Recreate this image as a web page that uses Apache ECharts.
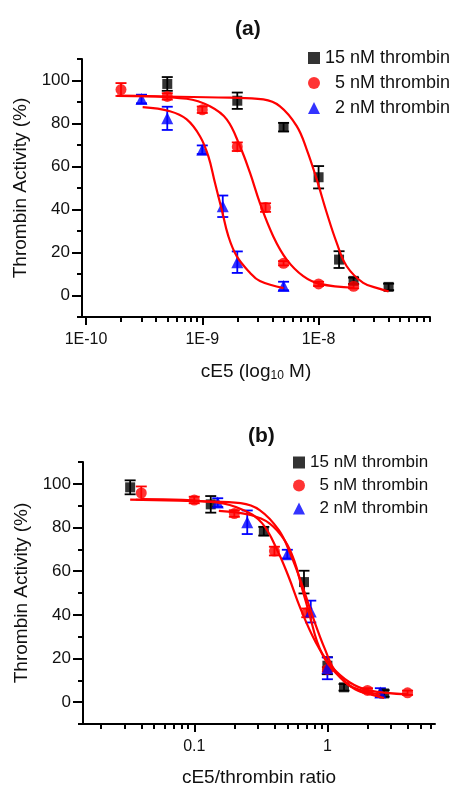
<!DOCTYPE html>
<html><head><meta charset="utf-8">
<script src="https://cdn.jsdelivr.net/npm/echarts@6/dist/echarts.min.js"></script>
<style>html,body{margin:0;padding:0;background:#fff}#c{width:456px;height:797px}</style>
</head><body><div id="c"></div>
<script>
// ---------------- data ----------------
const seriesNames = ['15 nM thrombin', '  5 nM thrombin', '  2 nM thrombin'];
// panel (a): cE5 concentration (M)
const concBlack = [5e-10, 2e-9, 5e-9, 1e-8, 1.5e-8, 2e-8, 4e-8];
const concRed = [2e-10, 5e-10, 1e-9, 2e-9, 3.5e-9, 5e-9, 1e-8, 2e-8];
const concBlue = [3e-10, 5e-10, 1e-9, 1.5e-9, 2e-9, 5e-9];
// panel (b): cE5/thrombin ratio
const ratioBlack = [0.033, 0.133, 0.333, 0.667, 1.0, 1.333, 2.667];
const ratioRed = [0.04, 0.1, 0.2, 0.4, 0.7, 1.0, 2.0, 4.0];
const ratioBlue = [0.15, 0.25, 0.5, 0.75, 1.0, 2.5];
// thrombin activity (%)
const actBlack = [98.4, 90.6, 78.3, 55.0, 16.7, 6.8, 4.0];
const actRed = [95.8, 92.6, 86.4, 69.2, 40.9, 15.0, 5.4, 4.3];
const actBlue = [91.4, 82.4, 67.8, 41.5, 15.5, 4.4];
// error bars (+/-)
const errBlack = [3.2, 3.8, 2.0, 5.2, 3.9, 1.5, 1.5];
const errRed = [3.0, 1.5, 1.5, 2.0, 2.0, 1.0, 1.0, 1.0];
const errBlue = [2.0, 5.4, 2.0, 5.0, 5.0, 2.0];
// fitted curves, panel (a)
const fitA_BlackX = [1.85e-10, 1.73e-9, 3.35e-9, 4.66e-9, 6.49e-9, 7.91e-9, 9.64e-9, 1.175e-8, 1.432e-8, 1.746e-8, 2.42e-8, 3.37e-8, 4.0e-8];
const fitA_BlackY = [92.8, 92.0, 91.2, 88.0, 78.8, 67.9, 54.0, 38.5, 24.5, 13.6, 5.9, 3.1, 1.9];
const fitA_RedX = [1.85e-10, 7.35e-10, 1.164e-9, 1.622e-9, 2.109e-9, 2.57e-9, 3.13e-9, 4.07e-9, 5.32e-9, 7.38e-9, 1.028e-8, 2.0e-8];
const fitA_RedY = [93.0, 91.5, 88.0, 81.9, 69.4, 57.1, 43.0, 27.6, 16.7, 9.0, 5.4, 3.6];
const fitA_BlueX = [3.07e-10, 5.27e-10, 7.35e-10, 9.55e-10, 1.127e-9, 1.285e-9, 1.469e-9, 1.675e-9, 1.977e-9, 2.57e-9, 3.13e-9, 5.0e-9];
const fitA_BlueY = [87.6, 85.7, 81.9, 74.1, 64.8, 52.4, 40.0, 27.6, 18.3, 10.6, 6.7, 3.4];
// fitted curves, panel (b)
const fitB_BlackX = [0.033, 0.115, 0.223, 0.31, 0.432, 0.527, 0.643, 0.783, 0.955, 1.164, 1.614, 2.249, 2.667];
const fitB_BlackY = [92.8, 92.0, 91.2, 88.0, 78.8, 67.9, 54.0, 38.5, 24.5, 13.6, 5.9, 3.1, 1.9];
const fitB_RedX = [0.04, 0.147, 0.233, 0.324, 0.422, 0.514, 0.627, 0.815, 1.064, 1.476, 2.056, 4.0];
const fitB_RedY = [93.0, 91.5, 88.0, 81.9, 69.4, 57.1, 43.0, 27.6, 16.7, 9.0, 5.4, 3.6];
const fitB_BlueX = [0.153, 0.264, 0.367, 0.478, 0.564, 0.643, 0.735, 0.838, 0.989, 1.285, 1.567, 2.5];
const fitB_BlueY = [87.6, 85.7, 81.9, 74.1, 64.8, 52.4, 40.0, 27.6, 18.3, 10.6, 6.7, 3.4];
// axis ticks
const yMajorTicks = [0, 20, 40, 60, 80, 100];
const yMinorTicks = [-10, 10, 30, 50, 70, 90, 110];
const xA_MajorTicks = [1e-10, 1e-9, 1e-8];
const xA_MinorTicks = [2e-10,3e-10,4e-10,5e-10,6e-10,7e-10,8e-10,9e-10,2e-9,3e-9,4e-9,5e-9,6e-9,7e-9,8e-9,9e-9,2e-8,3e-8,4e-8,5e-8,6e-8,7e-8,8e-8,9e-8];
const xB_MajorTicks = [0.1, 1];
const xB_MinorTicks = [0.02,0.03,0.04,0.05,0.06,0.07,0.08,0.09,0.2,0.3,0.4,0.5,0.6,0.7,0.8,0.9,2,3,4,5,6];

// ---------------- chart ----------------
const FONT = 'Liberation Sans, Arial, sans-serif';
const colors = ['#000000', '#ff0000', '#0000ff'];
const symbols = ['rect', 'circle', 'triangle'];
const symSizes = [10, 11, 12];

function zip(a, b, c) { return a.map((v, i) => c ? [v, b[i], c[i]] : [v, b[i]]); }

function errRender(color) {
  return function (params, api) {
    const x = api.value(0), y = api.value(1), e = api.value(2);
    const t = api.coord([x, y + e]), b = api.coord([x, y - e]);
    const hw = 5.5, lw = 1.8;
    return { type: 'group', children: [
      { type: 'line', shape: { x1: t[0], y1: t[1], x2: b[0], y2: b[1] }, style: { stroke: color, lineWidth: lw } },
      { type: 'line', shape: { x1: t[0] - hw, y1: t[1], x2: t[0] + hw, y2: t[1] }, style: { stroke: color, lineWidth: lw } },
      { type: 'line', shape: { x1: b[0] - hw, y1: b[1], x2: b[0] + hw, y2: b[1] }, style: { stroke: color, lineWidth: lw } }
    ]};
  };
}

const panels = [
  { xs: [concBlack, concRed, concBlue], fx: [fitA_BlackX, fitA_RedX, fitA_BlueX], fy: [fitA_BlackY, fitA_RedY, fitA_BlueY], xi: 0, yi: 0 },
  { xs: [ratioBlack, ratioRed, ratioBlue], fx: [fitB_BlackX, fitB_RedX, fitB_BlueX], fy: [fitB_BlackY, fitB_RedY, fitB_BlueY], xi: 2, yi: 2 }
];
const acts = [actBlack, actRed, actBlue];
const errs = [errBlack, errRed, errBlue];

const series = [];
panels.forEach(p => {
  for (let k = 0; k < 3; k++) {
    series.push({
      type: 'custom', xAxisIndex: p.xi, yAxisIndex: p.yi, silent: true, z: 3,
      renderItem: errRender(colors[k]), encode: { x: 0, y: 1 },
      data: zip(p.xs[k], acts[k], errs[k])
    });
  }
  for (let k = 0; k < 3; k++) {
    series.push({
      type: 'scatter', name: seriesNames[k], xAxisIndex: p.xi, yAxisIndex: p.yi, z: 4,
      symbol: symbols[k], symbolSize: symSizes[k], itemStyle: { color: colors[k] },
      data: zip(p.xs[k], acts[k])
    });
  }
  for (let k = 0; k < 3; k++) {
    series.push({
      type: 'line', xAxisIndex: p.xi, yAxisIndex: p.yi, z: 5, silent: true,
      showSymbol: false, symbol: 'none', smooth: 0.4,
      lineStyle: { color: '#ff0000', width: 2.2 },
      data: zip(p.fx[k], p.fy[k])
    });
  }
});

const axisLine = { show: true, onZero: false, lineStyle: { color: '#000', width: 2 } };
function xMajor(grid, min, max, ticks, fmt, name, gap) {
  return {
    type: 'log', gridIndex: grid, min: min, max: max, position: 'bottom',
    axisLine: axisLine,
    axisTick: { show: true, customValues: ticks, length: 8, lineStyle: { color: '#000', width: 2 } },
    axisLabel: { show: true, customValues: ticks, formatter: fmt, margin: 15, color: '#111', fontSize: 16, fontFamily: FONT },
    splitLine: { show: false }, minorTick: { show: false },
    name: name, nameLocation: 'middle', nameGap: gap,
    nameTextStyle: { fontSize: 19, color: '#111', fontFamily: FONT,
      rich: { sub: { fontSize: 12, fontFamily: FONT, color: '#111', padding: [9, 0, 0, 0] } } }
  };
}
function xMinor(grid, min, max, ticks) {
  return {
    type: 'log', gridIndex: grid, min: min, max: max, position: 'bottom',
    axisLine: { show: false, onZero: false },
    axisTick: { show: true, customValues: ticks, length: 5, lineStyle: { color: '#000', width: 2 } },
    axisLabel: { show: false }, splitLine: { show: false }
  };
}
function yMajor(grid) {
  return {
    type: 'value', gridIndex: grid, min: -10, max: 110, position: 'left',
    axisLine: axisLine,
    axisTick: { show: true, customValues: yMajorTicks, length: 10, lineStyle: { color: '#000', width: 2 } },
    axisLabel: { show: true, customValues: yMajorTicks, margin: 12, color: '#111', fontSize: 17, fontFamily: FONT },
    splitLine: { show: false },
    name: 'Thrombin Activity (%)', nameLocation: 'middle', nameGap: 52,
    nameTextStyle: { fontSize: 19, color: '#111', fontFamily: FONT }
  };
}
function yMinor(grid) {
  return {
    type: 'value', gridIndex: grid, min: -10, max: 110, position: 'left', offset: 0,
    axisLine: { show: false, onZero: false },
    axisTick: { show: true, customValues: yMinorTicks, length: 5, lineStyle: { color: '#000', width: 2 } },
    axisLabel: { show: false }, splitLine: { show: false }
  };
}

const fmtA = v => '1E' + Math.round(Math.log10(v));
const fmtB = v => String(Math.round(v * 10) / 10);

const option = {
  animation: false,
  backgroundColor: '#fff',
  textStyle: { fontFamily: FONT },
  title: [
    { text: '(a)', left: 230, top: 14, textStyle: { fontSize: 21, fontWeight: 'bold', color: '#111', fontFamily: FONT } },
    { text: '(b)', left: 243, top: 421, textStyle: { fontSize: 21, fontWeight: 'bold', color: '#111', fontFamily: FONT } }
  ],
  legend: [
    { data: seriesNames, orient: 'vertical', left: 303, top: 44, itemWidth: 12, itemHeight: 12, itemGap: 7, selectedMode: false,
      textStyle: { fontSize: 18, color: '#111', fontFamily: FONT } },
    { data: seriesNames, orient: 'vertical', left: 288, top: 449, itemWidth: 12, itemHeight: 12, itemGap: 6, selectedMode: false,
      textStyle: { fontSize: 17, color: '#111', fontFamily: FONT } }
  ],
  grid: [
    { left: 82, top: 59, width: 348, height: 258, containLabel: false },
    { left: 83, top: 462, width: 352, height: 262, containLabel: false }
  ],
  xAxis: [
    xMajor(0, 9.24e-11, 9.08e-8, xA_MajorTicks, fmtA, 'cE5 (log{sub|10} M)', 44),
    xMinor(0, 9.24e-11, 9.08e-8, xA_MinorTicks),
    xMajor(1, 0.0146, 6.43, xB_MajorTicks, fmtB, 'cE5/thrombin ratio', 44),
    xMinor(1, 0.0146, 6.43, xB_MinorTicks)
  ],
  yAxis: [yMajor(0), yMinor(0), yMajor(1), yMinor(1)],
  series: series
};
const chart = echarts.init(document.getElementById('c'), null, { renderer: 'canvas' });
chart.setOption(option);
</script></body></html>
